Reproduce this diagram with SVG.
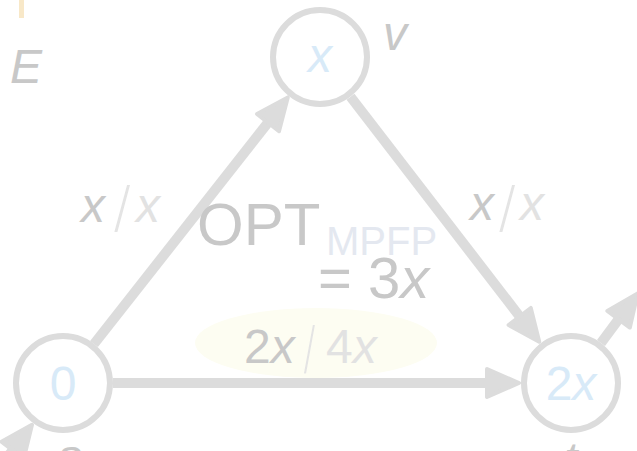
<svg xmlns="http://www.w3.org/2000/svg" width="637" height="451" viewBox="0 0 637 451">
<style>
.edge{stroke:#dcdcdc;stroke-width:10;fill:none;marker-end:url(#ah)}
.node{fill:#fff;stroke:#dcdcdc;stroke-width:6}
.nl{font-family:"Liberation Sans",Arial,sans-serif;font-size:48px;fill:#d8eaf8;text-anchor:middle}
.t{font-family:"Liberation Sans",Arial,sans-serif;font-size:48px;fill:#c8c8c8}
.lt{fill:#e2e2e2}
.sl{font-family:"Liberation Sans",Arial,sans-serif;font-size:66px;fill:#e4e4e4;stroke:#fff;stroke-width:2}
.i{font-style:italic}
</style>
<defs>
<marker id="ah" markerUnits="userSpaceOnUse" viewBox="-3 -18 38 36" refX="0" refY="0" markerWidth="38" markerHeight="36" orient="auto">
<path d="M0,-14 L32,0 L0,14 Z" fill="#dcdcdc" stroke="#dcdcdc" stroke-width="4" stroke-linejoin="round"/>
</marker>
</defs>
<rect x="19" y="0" width="5" height="18" fill="#f8e8c8"/>
<text class="t i" x="10" y="83">E</text>
<ellipse cx="316" cy="343" rx="121" ry="35" fill="#fdfdf2"/>
<g id="connectors">
<path class="edge" d="M94,344 L268,122.6"/>
<path class="edge" d="M350.5,96.7 L519.7,316.5"/>
<path class="edge" d="M113,383 L487,383"/>
<path class="edge" d="M601,343 L618.6,319.2"/>
<path class="edge" d="M-20,493 L12.6,450.2"/>
</g>
<g id="node-v">
<circle class="node" cx="320" cy="57" r="47"/>
<text class="nl i" x="320" y="72">x</text>
<text class="t i" x="383" y="50">v</text>
</g>
<g id="node-s">
<circle class="node" cx="63" cy="383" r="47"/>
<text class="nl" x="63" y="400">0</text>
<text class="t i" x="58" y="473">s</text>
</g>
<g id="node-t">
<circle class="node" cx="571" cy="383" r="47"/>
<text class="nl" x="571" y="400">2<tspan class="i">x</tspan></text>
<text class="t i" x="564" y="476">t</text>
</g>
<g id="label-sv">
<text class="t i" x="81" y="222">x</text>
<text class="sl" x="113" y="232">/</text>
<text class="t i lt" x="136" y="222">x</text>
</g>
<g id="label-vt">
<text class="t i" x="470" y="220">x</text>
<text class="sl" x="498" y="232">/</text>
<text class="t i lt" x="520" y="220">x</text>
</g>
<g id="label-st">
<text class="t" x="244" y="363">2<tspan class="i">x</tspan></text>
<text class="sl" style="stroke:#fdfdf2" transform="translate(303,374) scale(0.7,1.05)">/</text>
<text class="t lt" x="326" y="363">4<tspan class="i">x</tspan></text>
</g>
<g id="opt">
<text class="t" x="197" y="245" style="font-size:60px">OPT</text>
<text class="t" x="326" y="255" style="font-size:40px;fill:#e4e8f0">MPFP</text>
<text class="t" x="318" y="298" style="font-size:58px">= 3<tspan class="i">x</tspan></text>
</g>
</svg>
